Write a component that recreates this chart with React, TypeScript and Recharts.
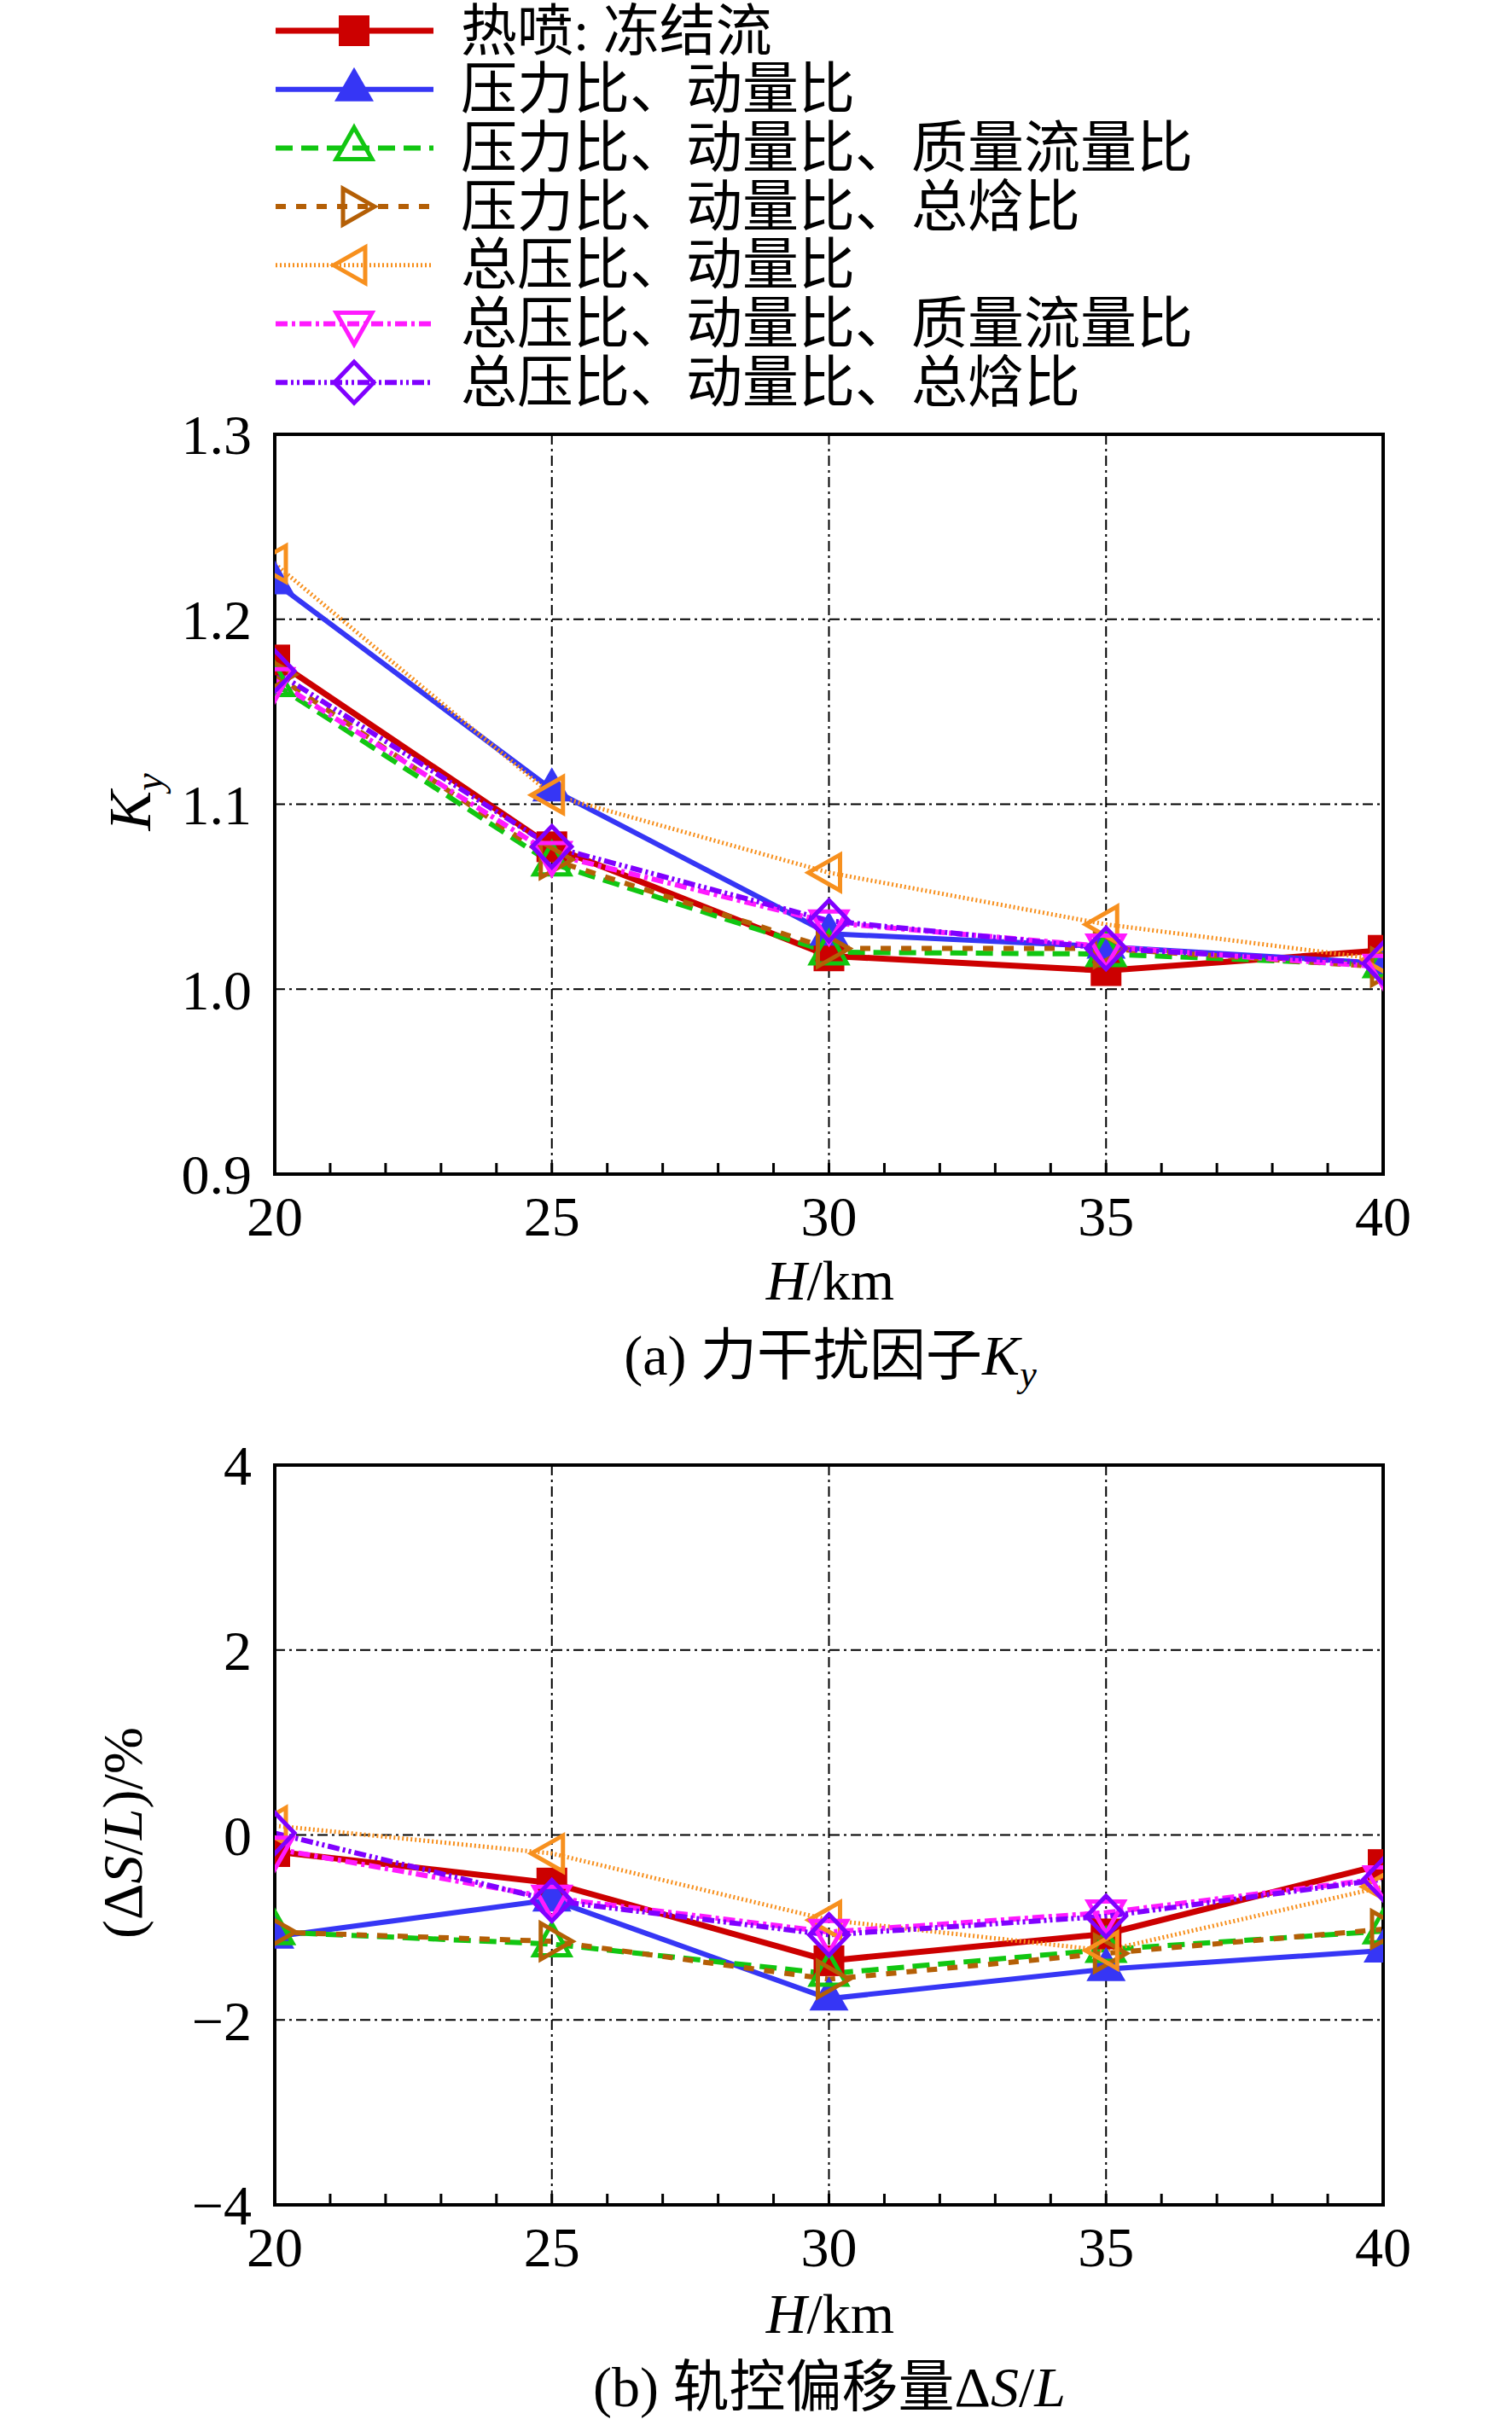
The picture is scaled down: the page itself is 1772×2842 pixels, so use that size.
import React from "react";
import { LineChart, Line, XAxis, YAxis, CartesianGrid } from "recharts";

// altitude H/km
const H = [20, 25, 30, 35, 40];
const H_MINOR = [20, 21, 22, 23, 24, 25, 26, 27, 28, 29, 30, 31, 32, 33, 34, 35, 36, 37, 38, 39, 40];

const NAMES = [
  "热喷: 冻结流",
  "压力比、动量比",
  "压力比、动量比、质量流量比",
  "压力比、动量比、总焓比",
  "总压比、动量比",
  "总压比、动量比、质量流量比",
  "总压比、动量比、总焓比",
];

// (a) force interference factor Ky
const KY_FROZEN = [1.178, 1.077, 1.018, 1.01, 1.021];
const KY_P_M = [1.22, 1.108, 1.03, 1.023, 1.014];
const KY_P_M_Q = [1.165, 1.068, 1.02, 1.019, 1.013];
const KY_P_M_H = [1.17, 1.07, 1.022, 1.022, 1.012];
const KY_PT_M = [1.23, 1.105, 1.063, 1.035, 1.016];
const KY_PT_M_Q = [1.167, 1.073, 1.036, 1.023, 1.012];
const KY_PT_M_H = [1.172, 1.077, 1.037, 1.022, 1.014];

// (b) orbit control offset dS/L in %
const DS_FROZEN = [-0.18, -0.52, -1.36, -1.07, -0.32];
const DS_P_M = [-1.1, -0.7, -1.77, -1.45, -1.25];
const DS_P_M_Q = [-1.05, -1.18, -1.5, -1.24, -1.04];
const DS_P_M_H = [-1.05, -1.15, -1.56, -1.28, -1.02];
const DS_PT_M = [0.1, -0.2, -0.92, -1.25, -0.56];
const DS_PT_M_Q = [-0.15, -0.68, -1.05, -0.84, -0.47];
const DS_PT_M_H = [0.02, -0.71, -1.08, -0.88, -0.48];

const KY_TICKS = [0.9, 1.0, 1.1, 1.2, 1.3];
const KY_MINOR = [0.9, 0.92, 0.94, 0.96, 0.98, 1.0, 1.02, 1.04, 1.06, 1.08, 1.1, 1.12, 1.14, 1.16, 1.18, 1.2, 1.22, 1.24, 1.26, 1.28, 1.3];
const DS_TICKS = [-4, -2, 0, 2, 4];
const DS_MINOR = [-4, -3.6, -3.2, -2.8, -2.4, -2, -1.6, -1.2, -0.8, -0.4, 0, 0.4, 0.8, 1.2, 1.6, 2, 2.4, 2.8, 3.2, 3.6, 4];

const STYLES = [
  { color: "#cc0000", width: 7, dash: undefined, marker: "square" },
  { color: "#3636f5", width: 6, dash: undefined, marker: "triUpFilled" },
  { color: "#11c611", width: 6, dash: "20 10", marker: "triUp" },
  { color: "#b45f06", width: 6, dash: "12 12", marker: "triRight" },
  { color: "#f7901e", width: 5, dash: "2 3", marker: "triLeft" },
  { color: "#ff1aff", width: 6, dash: "14 5 4 5", marker: "triDown" },
  { color: "#8000ff", width: 6, dash: "14 4 3 4 3 4", marker: "diamond" },
];

const KEYS = ["s0", "s1", "s2", "s3", "s4", "s5", "s6"];

const buildRows = (series: number[][]) =>
  H.map((h, i) => {
    const row: Record<string, number> = { h };
    series.forEach((s, k) => (row[KEYS[k]] = s[i]));
    return row;
  });

const kyRows = buildRows([KY_FROZEN, KY_P_M, KY_P_M_Q, KY_P_M_H, KY_PT_M, KY_PT_M_Q, KY_PT_M_H]);
const dsRows = buildRows([DS_FROZEN, DS_P_M, DS_P_M_Q, DS_P_M_H, DS_PT_M, DS_PT_M_Q, DS_PT_M_H]);

const SERIF = "'Liberation Serif', 'Noto Sans CJK SC', serif";

function Marker({ kind, cx, cy, color }: { kind: string; cx: number; cy: number; color: string }) {
  const a = 24;
  const b = 13;
  const w = 21;
  const open = { fill: "none", stroke: color, strokeWidth: 5, strokeLinejoin: "miter" as const };
  switch (kind) {
    case "square":
      return <rect x={cx - 18} y={cy - 18} width={36} height={36} fill={color} />;
    case "triUpFilled":
      return <polygon points={`${cx},${cy - a - 2} ${cx + w + 2},${cy + b + 1} ${cx - w - 2},${cy + b + 1}`} fill={color} />;
    case "triUp":
      return <polygon points={`${cx},${cy - a} ${cx + w},${cy + b} ${cx - w},${cy + b}`} {...open} />;
    case "triDown":
      return <polygon points={`${cx},${cy + a} ${cx + w},${cy - b} ${cx - w},${cy - b}`} {...open} />;
    case "triRight":
      return <polygon points={`${cx + a},${cy} ${cx - b},${cy - w} ${cx - b},${cy + w}`} {...open} />;
    case "triLeft":
      return <polygon points={`${cx - a},${cy} ${cx + b},${cy - w} ${cx + b},${cy + w}`} {...open} />;
    default:
      return <polygon points={`${cx},${cy - 24} ${cx + 23},${cy} ${cx},${cy + 24} ${cx - 23},${cy}`} {...open} />;
  }
}

const axisLine = { stroke: "#000", strokeWidth: 4, strokeLinecap: "square" as const };
const tickFont = { fill: "#000", fontSize: 66, fontFamily: SERIF };
const minorLine = { stroke: "#000", strokeWidth: 3 };
// minor axes: tick marks only, no label
const noLabel = () => <g />;

function Panel({
  rows,
  top,
  height,
  marginTop,
  marginBottom,
  yDomain,
  yTicks,
  yMinor,
  fmt,
}: {
  rows: Record<string, number>[];
  top: number;
  height: number;
  marginTop: number;
  marginBottom: number;
  yDomain: [number, number];
  yTicks: number[];
  yMinor: number[];
  fmt: (v: number) => string;
}) {
  return (
    <div style={{ position: "absolute", left: 0, top }}>
      <LineChart
        width={1772}
        height={height}
        data={rows}
        // top and right frame axes take 1px each
        margin={{ top: marginTop - 1, right: 150, bottom: marginBottom, left: 222 }}
      >
        <CartesianGrid stroke="#000" strokeWidth={2} strokeDasharray="12 5 3 5" fill="none" />
        <XAxis
          dataKey="h"
          type="number"
          domain={[20, 40]}
          ticks={H}
          interval={0}
          allowDataOverflow
          height={80}
          tickSize={0}
          tickMargin={25}
          tickLine={false}
          axisLine={axisLine}
          tick={tickFont}
        />
        <XAxis
          xAxisId="minor"
          dataKey="h"
          type="number"
          domain={[20, 40]}
          ticks={H_MINOR}
          interval={0}
          mirror
          height={1}
          tick={noLabel}
          tickSize={13}
          tickLine={minorLine}
          axisLine={false}
        />
        <XAxis
          xAxisId="top"
          orientation="top"
          dataKey="h"
          type="number"
          domain={[20, 40]}
          ticks={H}
          height={1}
          tick={false}
          tickLine={false}
          axisLine={axisLine}
        />
        <YAxis
          type="number"
          domain={yDomain}
          ticks={yTicks}
          interval={0}
          allowDataOverflow
          width={100}
          tickSize={0}
          tickMargin={27}
          tickLine={false}
          axisLine={axisLine}
          tick={tickFont}
          tickFormatter={fmt}
        />
        <YAxis
          yAxisId="minor"
          type="number"
          domain={yDomain}
          ticks={yMinor}
          interval={0}
          mirror
          width={1}
          tick={noLabel}
          tickSize={13}
          tickLine={minorLine}
          axisLine={false}
        />
        <YAxis
          yAxisId="right"
          orientation="right"
          type="number"
          domain={yDomain}
          ticks={yTicks}
          width={1}
          tick={false}
          tickLine={false}
          axisLine={axisLine}
        />
        {STYLES.map((s, k) => (
          <Line
            key={KEYS[k]}
            dataKey={KEYS[k]}
            type="linear"
            stroke={s.color}
            strokeWidth={s.width}
            strokeDasharray={s.dash}
            isAnimationActive={false}
            activeDot={false}
            dot={(p: any) => (
              <Marker key={`${KEYS[k]}-${p.index}`} kind={s.marker} cx={p.cx} cy={p.cy} color={s.color} />
            )}
          />
        ))}
      </LineChart>
    </div>
  );
}

function Overlay() {
  const rowY = (i: number) => 36 + i * 68.7;
  return (
    <svg
      width={1772}
      height={2842}
      style={{ position: "absolute", left: 0, top: 0, pointerEvents: "none" }}
      fontFamily={SERIF}
    >
      {NAMES.map((n, i) => (
        <g key={n}>
          <line
            x1={323}
            x2={508}
            y1={rowY(i)}
            y2={rowY(i)}
            stroke={STYLES[i].color}
            strokeWidth={STYLES[i].width}
            strokeDasharray={STYLES[i].dash}
          />
          <Marker kind={STYLES[i].marker} cx={415} cy={rowY(i)} color={STYLES[i].color} />
          <text x={540} y={rowY(i)} fontSize={66} dominantBaseline="central" fill="#000">
            {n}
          </text>
        </g>
      ))}

      <text transform="translate(176,940) rotate(-90)" textAnchor="middle" fontSize={70} fill="#000">
        <tspan fontStyle="italic">K</tspan>
        <tspan fontStyle="italic" fontSize={46} dy={14}>y</tspan>
      </text>
      <text x={973} y={1523} textAnchor="middle" fontSize={66} fill="#000">
        <tspan fontStyle="italic">H</tspan>/km
      </text>
      <text x={973} y={1611} textAnchor="middle" fontSize={66} fill="#000">
        (a) 力干扰因子<tspan fontStyle="italic">K</tspan>
        <tspan fontStyle="italic" fontSize={44} dy={14}>y</tspan>
      </text>

      <text transform="translate(166,2148) rotate(-90)" textAnchor="middle" fontSize={66} fill="#000">
        (Δ<tspan fontStyle="italic">S</tspan>/<tspan fontStyle="italic">L</tspan>)/%
      </text>
      <text x={973} y={2734} textAnchor="middle" fontSize={66} fill="#000">
        <tspan fontStyle="italic">H</tspan>/km
      </text>
      <text x={972} y={2820} textAnchor="middle" fontSize={66} fill="#000">
        (b) 轨控偏移量Δ<tspan fontStyle="italic">S</tspan>/<tspan fontStyle="italic">L</tspan>
      </text>
    </svg>
  );
}

export default function App() {
  return (
    <div style={{ position: "absolute", left: 0, top: 0, width: 1772, height: 2842, background: "#fff" }}>
      <Panel
        rows={kyRows}
        top={0}
        height={1470}
        marginTop={509}
        marginBottom={14}
        yDomain={[0.9, 1.3]}
        yTicks={KY_TICKS}
        yMinor={KY_MINOR}
        fmt={(v) => v.toFixed(1)}
      />
      <Panel
        rows={dsRows}
        top={1500}
        height={1180}
        marginTop={217}
        marginBottom={16}
        yDomain={[-4, 4]}
        yTicks={DS_TICKS}
        yMinor={DS_MINOR}
        fmt={(v) => String(v).replace("-", "\u2212")}
      />
      <Overlay />
    </div>
  );
}
